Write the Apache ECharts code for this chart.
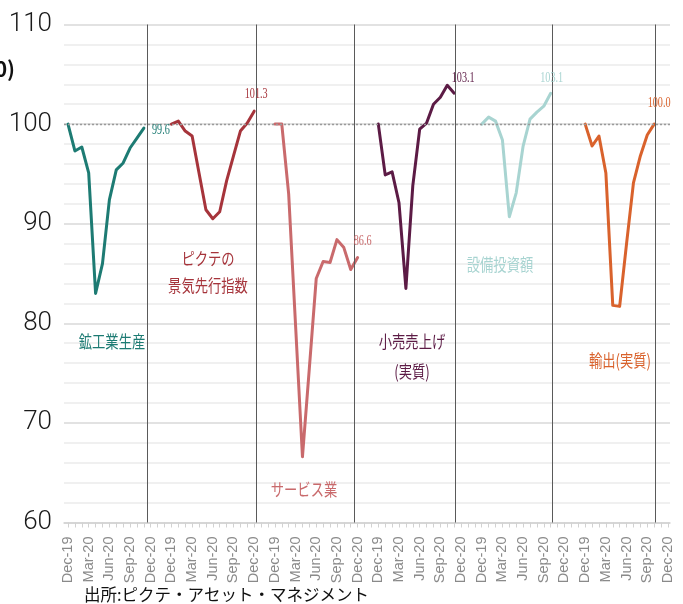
<!DOCTYPE html>
<html>
<head>
<meta charset="utf-8">
<script src="https://cdn.jsdelivr.net/npm/echarts@6/dist/echarts.min.js"></script>
<style>
  html, body { margin: 0; padding: 0; background: #fff; }
  #chart { width: 683px; height: 604px; }
</style>
</head>
<body>
<div id="chart"></div>
<script>
// Month labels printed under every panel (one every three months)
const tickLabels = ['Dec-19', 'Mar-20', 'Jun-20', 'Sep-20', 'Dec-20'];

// Monthly indices, Dec-2019 = 100
const miningIndustrial = [100.0, 97.3, 97.7, 95.1, 83.0, 86.0, 92.4, 95.4, 96.1, 97.6, 98.6, 99.6];
const picteLeading     = [100.0, 100.3, 99.3, 98.8, 95.1, 91.4, 90.5, 91.2, 94.3, 96.8, 99.3, 100.1, 101.3];
const services         = [100.0, 100.0, 93.0, 79.8, 66.6, 75.5, 84.5, 86.2, 86.1, 88.4, 87.6, 85.4, 86.6];
const retailReal       = [100.0, 94.9, 95.2, 92.1, 83.5, 93.8, 99.5, 100.1, 102.0, 102.7, 103.9, 103.1];
const capex            = [100.0, 100.7, 100.3, 98.4, 90.7, 93.1, 97.8, 100.5, 101.2, 101.8, 103.1];
const exportsReal      = [100.0, 97.8, 98.8, 95.1, 81.8, 81.7, 88.0, 94.1, 96.8, 98.9, 100.0];

const seriesNames = ['鉱工業生産', 'ピクテの\n景気先行指数', 'サービス業', '小売売上げ\n(実質)', '設備投資額', '輸出(実質)'];
const sourceNote = '出所:ピクテ・アセット・マネジメント';

// ---- layout & style ----
const SLOTS_PER_PANEL = 15;        // 13 months + 2 empty slots between panels
const MONTH_STEP = 3;
const PANEL_COUNT = 6;
const LAST_SLOT = SLOTS_PER_PANEL * (PANEL_COUNT - 1) + 12;
const dividerSlots = [11.45, 27.26, 41.51, 56.18, 70.18, 85.11];
const colors = ['#1d7b73', '#a6343b', '#c96a6c', '#5c1b45', '#a8d4d1', '#d9622c'];
// series-name captions: centre in pixels
const namePos = [[112, 341], [208, 272], [304, 489], [412, 356], [500, 264], [620, 360]];
const nameLineHeight = [0, 27, 0, 30, 0, 0];
// end-value captions: offset from the last point, in pixels
const endOffset = [[17, 1.5], [2, -17], [5, -17], [9, -15], [1, -15], [5, -21]];

const allValues = [miningIndustrial, picteLeading, services, retailReal, capex, exportsReal];

const labelSlots = [];
for (let p = 0; p < PANEL_COUNT; p++) {
  for (let k = 0; k < tickLabels.length; k++) labelSlots.push(p * SLOTS_PER_PANEL + k * MONTH_STEP);
}
const tickSlots = [];
for (let s = 0; s <= LAST_SLOT; s++) tickSlots.push(s);

const lineSeries = allValues.map((vals, p) => ({
  name: seriesNames[p],
  type: 'line',
  z: 3,
  symbol: 'none',
  smooth: false,
  data: vals.map((v, m) => [p * SLOTS_PER_PANEL + m, v]),
  lineStyle: { color: colors[p], width: 3, join: 'round', cap: 'round' },
  itemStyle: { color: colors[p] }
}));

// reference lines: 100 level (dotted) and panel dividers
const guideSeries = {
  type: 'line',
  z: 1,
  data: [],
  silent: true,
  markLine: {
    silent: true,
    symbol: ['none', 'none'],
    label: { show: false },
    animation: false,
    data: [
      { yAxis: 100, lineStyle: { color: '#9a9a9a', type: [2, 2], width: 1.3 } }
    ].concat(dividerSlots.map(x => ({ xAxis: x, lineStyle: { color: '#5a5a5a', type: 'solid', width: 1 } })))
  }
};

const cjkFont = '"Noto Sans CJK JP", "Noto Sans", sans-serif';

const nameGraphics = seriesNames.map((n, p) => ({
  id: 'name' + p,
  type: 'text',
  x: namePos[p][0],
  y: namePos[p][1],
  scaleX: 0.76,
  z: 10,
  style: {
    text: n,
    fill: colors[p],
    fontFamily: cjkFont,
    fontSize: 17.5,
    lineHeight: nameLineHeight[p] || 20,
    align: 'center',
    verticalAlign: 'middle'
  }
}));

const option = {
  animation: false,
  backgroundColor: '#ffffff',
  grid: { left: 64, right: 13, top: 24.5, bottom: 81.5, containLabel: false },
  xAxis: {
    type: 'value',
    min: -0.58,
    max: LAST_SLOT + 0.3,
    axisLine: { show: true, lineStyle: { color: '#d2d2d2', width: 1.5 } },
    axisTick: { show: true, customValues: tickSlots, length: 5, lineStyle: { color: '#d2d2d2', width: 1 } },
    axisLabel: {
      customValues: labelSlots,
      rotate: 90,
      margin: 14,
      color: '#8a8a8a',
      fontFamily: 'Liberation Sans, Arial, sans-serif',
      fontSize: 14.5,
      formatter: v => tickLabels[Math.round((v % SLOTS_PER_PANEL) / MONTH_STEP)]
    },
    splitLine: { show: false }
  },
  yAxis: {
    type: 'value',
    min: 60,
    max: 110,
    interval: 10,
    axisLine: { show: false },
    axisTick: { show: false },
    axisLabel: {
      margin: 12,
      color: '#1a1a1a',
      fontFamily: 'Roboto, "Liberation Sans", sans-serif',
      fontWeight: 300,
      fontSize: 26
    },
    splitLine: { show: true, lineStyle: { color: '#d8d8d8', width: 1.5 } },
    minorTick: { show: false, splitNumber: 5 },
    minorSplitLine: { show: true, lineStyle: { color: '#ececec', width: 1.5 } }
  },
  graphic: nameGraphics.concat([
    {
      id: 'unitNote',
      type: 'text',
      x: 15,
      y: 69,
      style: {
        text: '(2019年12月=100)',
        fill: '#111',
        fontFamily: cjkFont,
        fontWeight: 'bold',
        fontSize: 21,
        align: 'right',
        verticalAlign: 'middle'
      }
    },
    {
      id: 'source',
      type: 'text',
      x: 84,
      y: 595,
      style: {
        text: sourceNote,
        fill: '#111',
        fontFamily: cjkFont,
        fontSize: 16.5,
        align: 'left',
        verticalAlign: 'middle'
      }
    }
  ]),
  series: [guideSeries].concat(lineSeries)
};

const chart = echarts.init(document.getElementById('chart'), null, { renderer: 'canvas' });
chart.setOption(option);

// end-value captions placed at each series' last point
const endGraphics = allValues.map((vals, p) => {
  const last = [p * SLOTS_PER_PANEL + vals.length - 1, vals[vals.length - 1]];
  const px = chart.convertToPixel({ xAxisIndex: 0, yAxisIndex: 0 }, last);
  return {
    id: 'end' + p,
    type: 'text',
    x: px[0] + endOffset[p][0],
    y: px[1] + endOffset[p][1],
    scaleX: 0.68,
    z: 10,
    style: {
      text: vals[vals.length - 1].toFixed(1),
      fill: colors[p],
      fontFamily: '"Liberation Serif", serif',
      fontSize: 15,
      align: 'center',
      verticalAlign: 'middle'
    }
  };
});
chart.setOption({ graphic: endGraphics });
</script>
</body>
</html>
